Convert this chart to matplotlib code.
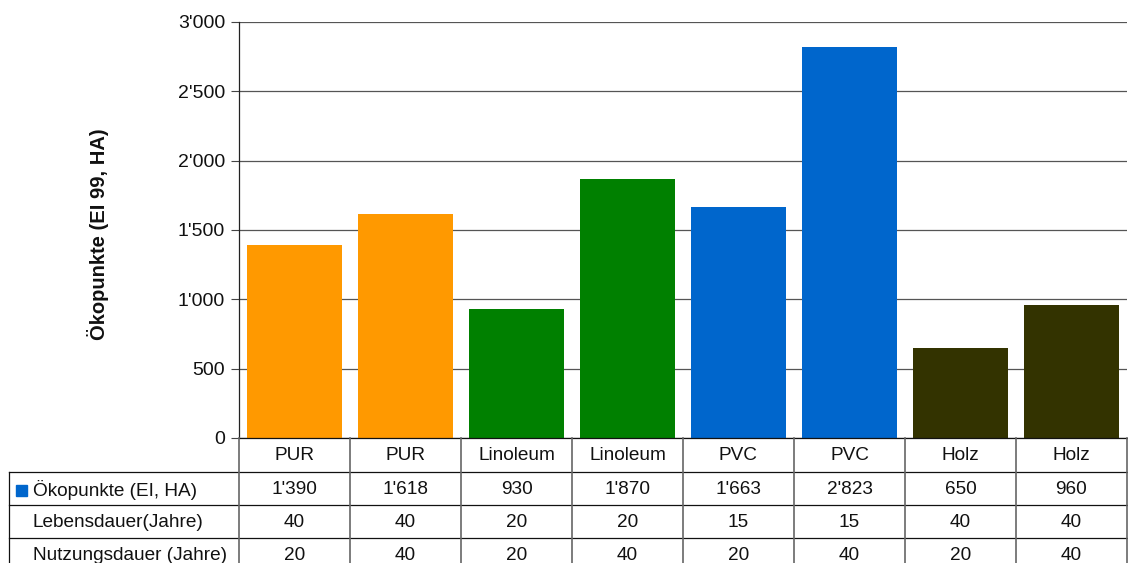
import matplotlib
matplotlib.use("Agg")
import matplotlib.pyplot as plt
from matplotlib.lines import Line2D
from matplotlib.patches import Rectangle
from matplotlib import transforms
from matplotlib.ticker import FuncFormatter, MultipleLocator

plt.rcParams['font.family'] = ['Liberation Sans', 'DejaVu Sans']

# Floor coverings: eco-points and durations
categories = ["PUR", "PUR", "Linoleum", "Linoleum", "PVC", "PVC", "Holz", "Holz"]
oekopunkte = [1390, 1618, 930, 1870, 1663, 2823, 650, 960]
lebensdauer = [40, 40, 20, 20, 15, 15, 40, 40]
nutzungsdauer = [20, 40, 20, 40, 20, 40, 20, 40]
row_labels = ["Ökopunkte (EI, HA)", "Lebensdauer(Jahre)", "Nutzungsdauer (Jahre)"]
bar_colors = ["#FF9900", "#FF9900", "#008000", "#008000",
              "#0066CC", "#0066CC", "#333300", "#333300"]
legend_color = "#0066CC"
y_label = "Ökopunkte (EI 99, HA)"

W, H = 1128, 563
fig = plt.figure(figsize=(W / 100, H / 100), dpi=100)

ax_left, ax_right, ax_top, ax_bottom = 239, 1127, 22, 438
ax = fig.add_axes([ax_left / W, 1 - ax_bottom / H,
                   (ax_right - ax_left) / W, (ax_bottom - ax_top) / H])

x = list(range(len(categories)))
ax.bar(x, oekopunkte, width=0.85, color=bar_colors, zorder=3)
ax.set_xlim(-0.5, len(categories) - 0.5)
ax.set_ylim(0, 3000)

def thousands(v, pos):
    v = int(round(v))
    return f"{v:,}".replace(",", "'")

ax.yaxis.set_major_locator(MultipleLocator(500))
ax.yaxis.set_major_formatter(FuncFormatter(thousands))
ax.tick_params(axis='y', direction='out', length=6, width=0.8,
               labelsize=14, pad=4, color='#444444', labelcolor='#111111')
ax.set_xticks([])
ax.grid(axis='y', color='#555555', linewidth=0.9, zorder=0)
for s in ['top', 'right', 'bottom']:
    ax.spines[s].set_visible(False)
ax.spines['left'].set_color('#222222')
ax.spines['left'].set_linewidth(0.9)

pix = fig.transFigure

def fy(p):
    return 1 - p / H

ax.set_ylabel(y_label, fontsize=14.5, fontweight='bold', color='#111111')
ax.yaxis.set_label_coords(109 / W, fy(234), transform=pix)

# Data table under the plot: x follows the data axis, y is in figure pixels
blend = transforms.blended_transform_factory(ax.transData, fig.transFigure)

row_edges = [438, 472, 505, 538, 571]
table_left = 9
line_kw = dict(color='#111111', linewidth=0.9, clip_on=False)
vline_kw = dict(color='#666666', linewidth=1.2, clip_on=False)

# horizontal rules
for yy in row_edges:
    x0 = table_left if yy > row_edges[0] else ax_left
    fig.add_artist(Line2D([x0 / W, ax_right / W], [fy(yy), fy(yy)],
                          transform=pix, **line_kw))
# left border of the label column
fig.add_artist(Line2D([table_left / W, table_left / W],
                      [fy(row_edges[1]), fy(H + 5)], transform=pix, **line_kw))
# column separators
for k in range(len(categories) + 1):
    xb = k - 0.5
    fig.add_artist(Line2D([xb, xb], [fy(row_edges[0]), fy(H + 5)],
                          transform=blend, **vline_kw))

text_kw = dict(fontsize=13.7, va='center', color='#111111')
# header row with category names
for i, c in enumerate(categories):
    fig.text(i, fy((row_edges[0] + row_edges[1]) / 2), c, ha='center',
             transform=blend, **text_kw)

rows = [[thousands(v, None) for v in oekopunkte],
        [str(v) for v in lebensdauer],
        [str(v) for v in nutzungsdauer]]
for r, (label, vals) in enumerate(zip(row_labels, rows)):
    yc = fy((row_edges[r + 1] + row_edges[r + 2]) / 2 + 1)
    fig.text(33 / W, yc, label, ha='left', transform=pix, **text_kw)
    for i, v in enumerate(vals):
        fig.text(i, yc, v, ha='center', transform=blend, **text_kw)

# legend key for the value row
fig.add_artist(Rectangle((16 / W, fy(496)), 11 / W, 11 / H,
                         transform=pix, color=legend_color, clip_on=False))

fig.savefig("out.png", dpi=100)
